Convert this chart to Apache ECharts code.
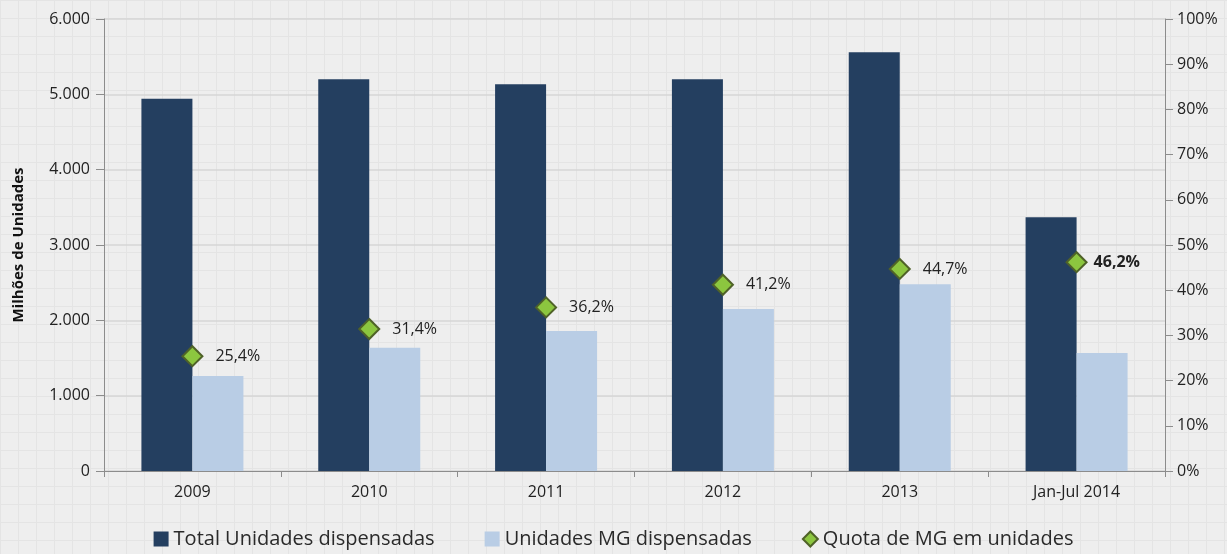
<!DOCTYPE html>
<html>
<head>
<meta charset="utf-8">
<script src="https://cdn.jsdelivr.net/npm/echarts@6/dist/echarts.min.js"></script>
<style>
    html, body { margin: 0; padding: 0; }
    #chart { width: 1227px; height: 554px; }
</style>
</head>
<body>
<div id="chart"></div>
<script>
var categories = ['2009', '2010', '2011', '2012', '2013', 'Jan-Jul 2014'];
var totalUnidades = [4940, 5200, 5135, 5200, 5560, 3370];
var unidadesMG = [1260, 1635, 1860, 2150, 2480, 1565];
var quotaMG = [25.4, 31.4, 36.2, 41.2, 44.7, 46.2];

//fundo quadriculado
function gridPattern() {
    var c = document.createElement('canvas');
    c.width = 18;
    c.height = 18;
    var ctx = c.getContext('2d');
    ctx.fillStyle = '#eeeeee';
    ctx.fillRect(0, 0, 18, 18);
    ctx.fillStyle = '#e4e4e4';
    ctx.fillRect(0, 0, 18, 1);
    ctx.fillRect(0, 0, 1, 18);
    return c;
}

function fmtMil(v) {
    return String(v).replace(/\B(?=(\d{3})+(?!\d))/g, '.');
}

var font = '"Open Sans", "Noto Sans", sans-serif';
var myChart = echarts.init(document.getElementById('chart'));

var option = {
    backgroundColor: { image: gridPattern(), repeat: 'repeat' },
    textStyle: { fontFamily: font },
    animation: false,
    grid: {
        left: 104,
        right: 62,
        top: 19,
        bottom: 83
    },
    legend: {
        bottom: 0,
        left: 'center',
        itemGap: 50,
        itemWidth: 15,
        itemHeight: 15,
        textStyle: { fontSize: 20, color: '#2a2a2a', fontFamily: font },
        data: [
            { name: 'Total Unidades dispensadas', icon: 'rect' },
            { name: 'Unidades MG dispensadas', icon: 'rect' },
            { name: 'Quota de MG em unidades', icon: 'diamond' }
        ]
    },
    xAxis: {
        type: 'category',
        data: categories,
        axisLine: { lineStyle: { color: '#8c8c8c' } },
        axisTick: { show: true, length: 6, lineStyle: { color: '#8c8c8c' } },
        axisLabel: { color: '#222', fontSize: 16, margin: 13 }
    },
    yAxis: [{
        type: 'value',
        min: 0,
        max: 6000,
        interval: 1000,
        name: 'Milhões de Unidades',
        nameLocation: 'middle',
        nameGap: 78,
        nameTextStyle: { fontWeight: 'bold', fontSize: 15, color: '#111' },
        axisLine: { show: true, lineStyle: { color: '#8c8c8c' } },
        axisTick: { show: true, length: 8, lineStyle: { color: '#8c8c8c' } },
        axisLabel: {
            color: '#222',
            fontSize: 16,
            margin: 14,
            formatter: fmtMil
        },
        splitLine: { lineStyle: { color: '#d6d6d6', width: 1.5 } }
    }, {
        type: 'value',
        min: 0,
        max: 100,
        interval: 10,
        position: 'right',
        axisLine: { show: true, lineStyle: { color: '#8c8c8c' } },
        axisTick: { show: true, length: 8, lineStyle: { color: '#8c8c8c' } },
        axisLabel: {
            color: '#222',
            fontSize: 16,
            margin: 12,
            formatter: '{value}%'
        },
        splitLine: { show: false }
    }],
    series: [{
        name: 'Total Unidades dispensadas',
        type: 'bar',
        barWidth: 51,
        barGap: '0%',
        itemStyle: { color: '#243f60' },
        data: totalUnidades
    }, {
        name: 'Unidades MG dispensadas',
        type: 'bar',
        barWidth: 51,
        barGap: '0%',
        itemStyle: { color: '#b9cde5' },
        data: unidadesMG
    }, {
        name: 'Quota de MG em unidades',
        type: 'line',
        yAxisIndex: 1,
        symbol: 'diamond',
        symbolSize: 20,
        lineStyle: { width: 0, opacity: 0 },
        itemStyle: { color: '#8cc63f', borderColor: '#4f6228', borderWidth: 2 },
        label: {
            show: true,
            position: 'right',
            distance: 12,
            fontSize: 16,
            color: '#222',
            formatter: function(p) {
                return p.value.toFixed(1).replace('.', ',') + '%';
            }
        },
        data: quotaMG.map(function(v, i) {
            if (i === quotaMG.length - 1) {
                return { value: v, label: { fontWeight: 'bold', distance: 6 } };
            }
            return v;
        })
    }]
};

myChart.setOption(option);
</script>
</body>
</html>
